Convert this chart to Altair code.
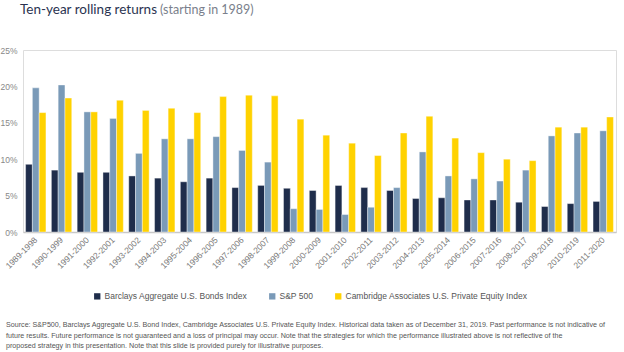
import altair as alt
import pandas as pd

periods = ["1989-1998", "1990-1999", "1991-2000", "1992-2001", "1993-2002", "1994-2003",
           "1995-2004", "1996-2005", "1997-2006", "1998-2007", "1999-2008", "2000-2009",
           "2001-2010", "2002-2011", "2003-2012", "2004-2013", "2005-2014", "2006-2015",
           "2007-2016", "2008-2017", "2009-2018", "2010-2019", "2011-2020"]

bonds = [9.3, 8.5, 8.2, 8.2, 7.7, 7.4, 6.9, 7.4, 6.1, 6.4, 6.0, 5.7,
         6.4, 6.1, 5.7, 4.6, 4.7, 4.4, 4.4, 4.1, 3.5, 3.9, 4.2]
sp500 = [19.8, 20.2, 16.5, 15.6, 10.8, 12.8, 12.8, 13.1, 11.2, 9.6, 3.2, 3.1,
         2.4, 3.4, 6.1, 11.0, 7.7, 7.3, 7.0, 8.5, 13.2, 13.6, 13.9]
pe = [16.4, 18.4, 16.5, 18.1, 16.7, 17.0, 16.4, 18.6, 18.8, 18.7, 15.5, 13.3,
      12.2, 10.5, 13.6, 15.9, 12.9, 10.9, 10.0, 9.8, 14.4, 14.4, 15.8]

series_names = ["Barclays Aggregate U.S. Bonds Index", "S&P 500",
                "Cambridge Associates U.S. Private Equity Index"]
series_colors = ["#1f2d4b", "#7a9ab8", "#ffd200"]

title_main = "Ten-year rolling returns"
title_sub = "(starting in 1989)"
footer = ("Source: S&P500, Barclays Aggregate U.S. Bond Index, Cambridge Associates U.S. Private Equity Index. "
          "Historical data taken as  of December 31, 2019. Past performance is not indicative of\n"
          "future results. Future performance is not guaranteed and a loss of principal may occur. "
          "Note that the strategies  for which the performance illustrated above is not reflective of the\n"
          "proposed strategy in this  presentation. Note that this slide is provided purely for illustrative purposes.")

rows = []
for i, p in enumerate(periods):
    rows.append({"period": p, "series": series_names[0], "value": bonds[i] / 100})
    rows.append({"period": p, "series": series_names[1], "value": sp500[i] / 100})
    rows.append({"period": p, "series": series_names[2], "value": pe[i] / 100})
df = pd.DataFrame(rows)

bars = alt.Chart(df).mark_bar(stroke="white", strokeWidth=0.4).encode(
    x=alt.X("period:N", sort=periods, title=None,
            scale=alt.Scale(paddingInner=0.21, paddingOuter=0.1),
            axis=alt.Axis(labelAngle=-45, labelAlign="right", labelBaseline="middle",
                          labelFontSize=8.5, labelColor="#777777", labelFont="Liberation Sans",
                          labelPadding=6, ticks=False, domainColor="#c8c8c8", domainWidth=1.5,
                          labelOverlap=False)),
    xOffset=alt.XOffset("series:N", sort=series_names),
    y=alt.Y("value:Q", title=None,
            scale=alt.Scale(domain=[0, 0.25]),
            axis=alt.Axis(format=".0%", values=[0, 0.05, 0.10, 0.15, 0.20, 0.25], grid=False,
                          domain=False, ticks=False, labelFontSize=8.5, labelColor="#888888",
                          labelFont="Liberation Sans", labelPadding=6)),
    color=alt.Color("series:N", sort=series_names,
                    scale=alt.Scale(domain=series_names, range=series_colors),
                    legend=alt.Legend(title=None, orient="none", direction="horizontal",
                                      legendX=70, legendY=242, symbolType="square",
                                      symbolSize=40, symbolStrokeWidth=0,
                                      labelFontSize=8.5, labelColor="#555555",
                                      labelFont="Liberation Sans", columnPadding=20,
                                      labelOffset=3, labelLimit=400)),
)

t1 = alt.Chart(pd.DataFrame({"t": [title_main]})).mark_text(
    align="left", baseline="alphabetic", font="Lato", fontSize=13.5, color="#2a3350"
).encode(text="t:N", x=alt.value(-3), y=alt.value(-36))

t2 = alt.Chart(pd.DataFrame({"t": [title_sub]})).mark_text(
    align="left", baseline="alphabetic", font="Lato", fontSize=12.5, color="#7a7f8c"
).encode(text="t:N", x=alt.value(137), y=alt.value(-36))

foot = alt.Chart(pd.DataFrame({"t": [footer]})).mark_text(
    align="left", baseline="top", font="Liberation Sans", fontSize=7.15, color="#555555",
    lineBreak="\n", lineHeight=10.5
).encode(text="t:N", x=alt.value(-17), y=alt.value(271))

chart = alt.layer(bars, t1, t2, foot).properties(
    width=593, height=182,
    padding={"left": 23, "top": 50, "right": 8, "bottom": 120},
    autosize=alt.AutoSizeParams(type="none"),
).configure_view(stroke=None).configure(background="white")

chart.save("out.html", embed_options={"renderer": "svg", "actions": False})
